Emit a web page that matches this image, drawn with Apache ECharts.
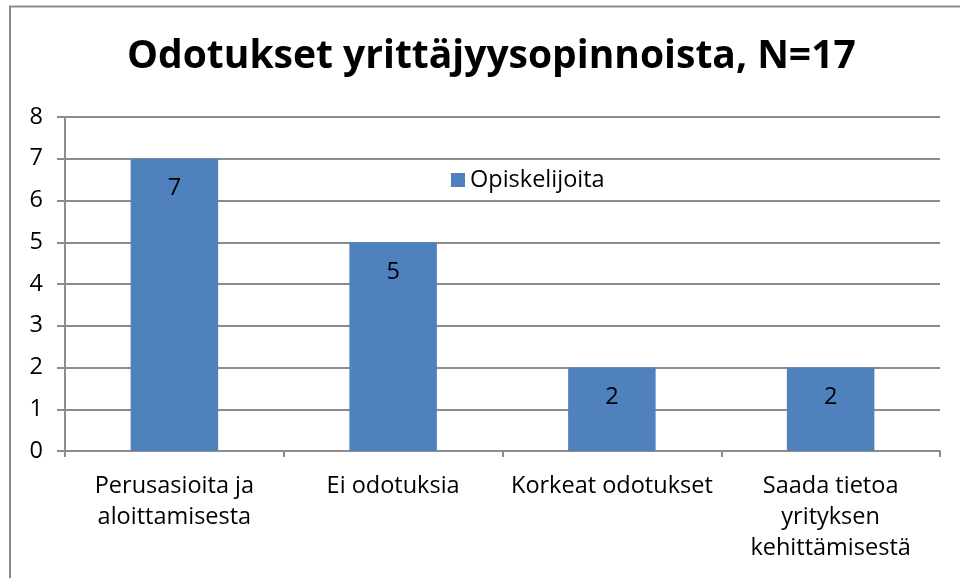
<!DOCTYPE html>
<html><head><meta charset="utf-8">
<script src="https://cdn.jsdelivr.net/npm/echarts@6/dist/echarts.min.js"></script>
<style>html,body{margin:0;padding:0;background:#fff}#c{width:960px;height:578px}</style>
</head><body><div id="c"></div>
<script>
const categories = ['Perusasioita ja\naloittamisesta', 'Ei odotuksia', 'Korkeat odotukset', 'Saada tietoa\nyrityksen\nkehittämisestä'];
const values = [7, 5, 2, 2];
const seriesName = 'Opiskelijoita';
const titleText = 'Odotukset yrittäjyysopinnoista, N=17';
const font = '"Open Sans", sans-serif';
const chart = echarts.init(document.getElementById('c'), null, {renderer: 'canvas'});
chart.setOption({
  animation: false,
  graphic: [{type: 'polyline', shape: {points: [[10, 600], [10, 6.5], [980, 6.5]]}, style: {stroke: '#8c8c8c', lineWidth: 2, fill: null}}],
  title: {text: titleText, left: 122, top: 32, textStyle: {fontFamily: font, fontSize: 39, fontWeight: 'bold', color: '#000'}},
  legend: {data: [seriesName], left: 446, top: 163, itemWidth: 14, itemHeight: 14, itemGap: 6, textStyle: {fontFamily: font, fontSize: 23.5, color: '#000'}, icon: 'rect'},
  grid: {left: 65, right: 20, top: 117, bottom: 127, containLabel: false},
  xAxis: {type: 'category', data: categories, axisLine: {lineStyle: {color: '#8c8c8c', width: 2}}, axisTick: {show: true, length: 6, lineStyle: {color: '#8c8c8c', width: 2}}, axisLabel: {fontFamily: font, fontSize: 23.5, color: '#000', lineHeight: 31, margin: 20, interval: 0}},
  yAxis: {type: 'value', min: 0, max: 8, interval: 1, axisLine: {show: true, lineStyle: {color: '#8c8c8c', width: 2}}, axisTick: {show: true, length: 8, lineStyle: {color: '#8c8c8c', width: 2}}, splitLine: {lineStyle: {color: '#8c8c8c', width: 2}}, axisLabel: {fontFamily: font, fontSize: 23.5, color: '#000', margin: 22}},
  series: [{name: seriesName, type: 'bar', data: values, barCategoryGap: '60%', itemStyle: {color: '#4F81BD'}, label: {show: true, position: 'insideTop', distance: 18, fontFamily: font, fontSize: 23.5, color: '#000'}}]
});
</script></body></html>
